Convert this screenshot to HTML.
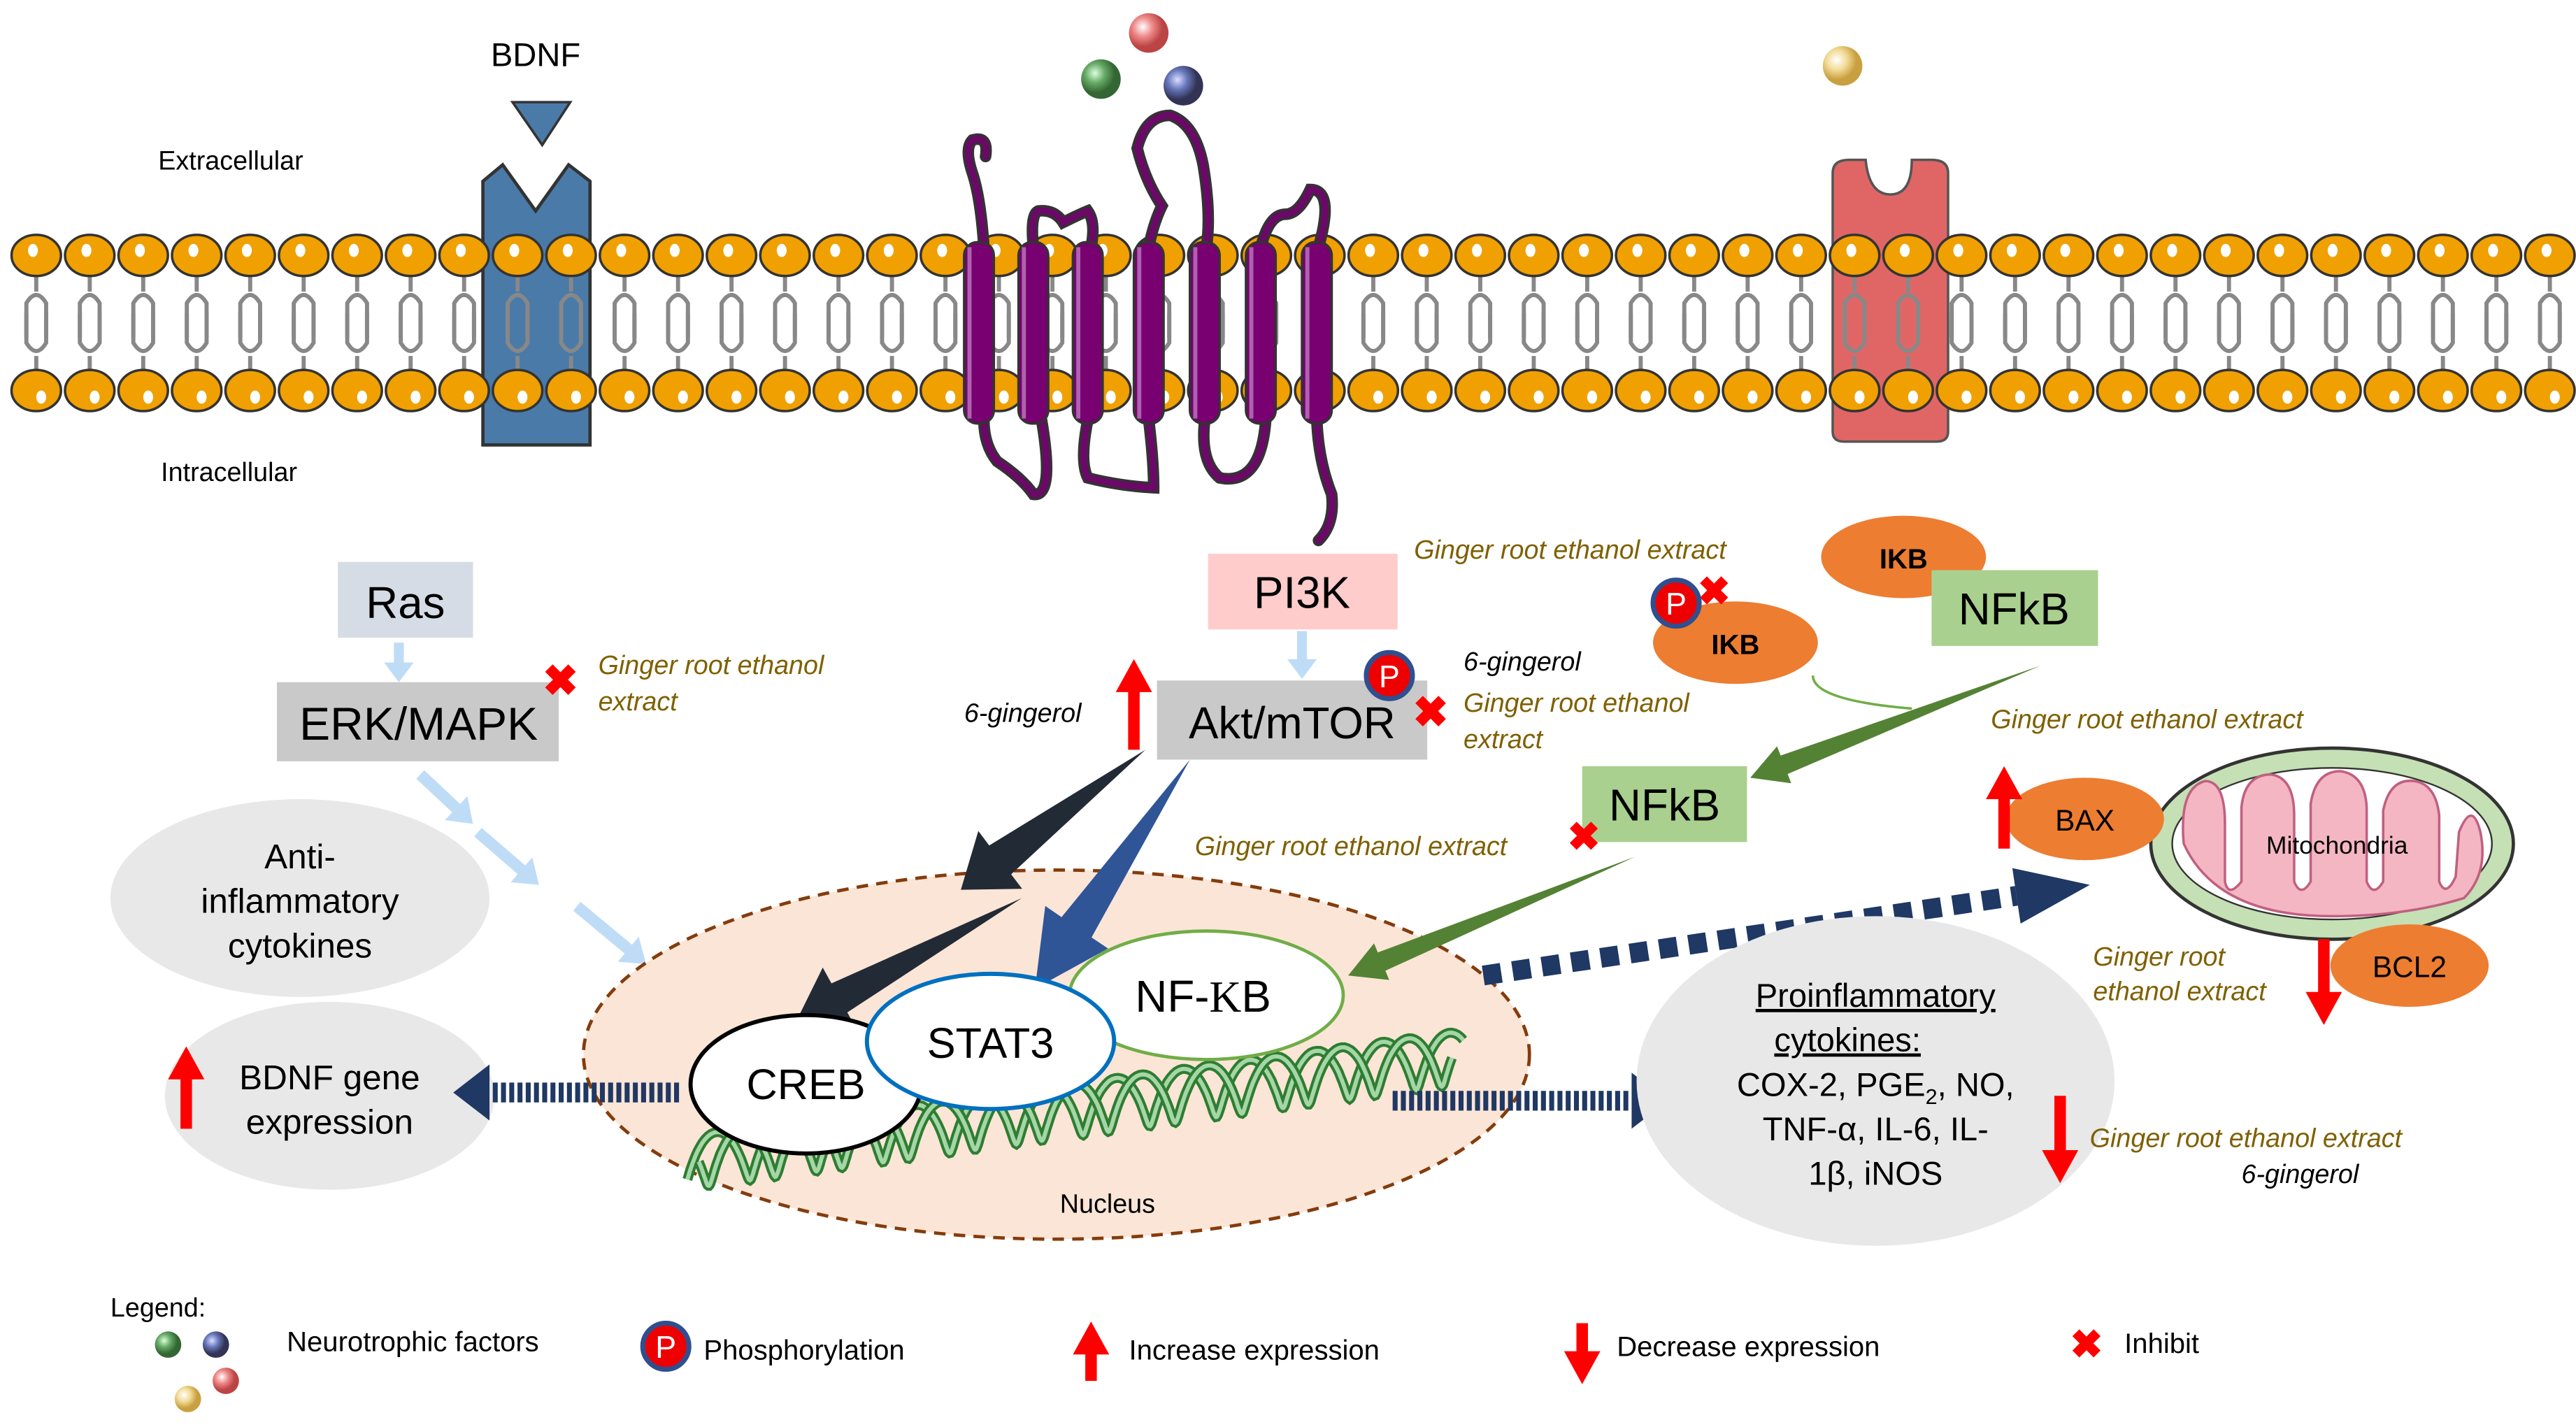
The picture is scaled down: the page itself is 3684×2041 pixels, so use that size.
<!DOCTYPE html>
<html><head><meta charset="utf-8">
<style>
html,body{margin:0;padding:0;background:#fff;}
svg{display:block;}
text{font-family:"Liberation Sans Narrow","Liberation Sans",sans-serif;}
.it{font-style:italic;fill:#7f6000;font-size:16px;}
</style></head>
<body>
<svg id="s" width="3684" height="2041" viewBox="0 0 1563 866" preserveAspectRatio="none" xmlns="http://www.w3.org/2000/svg">
<defs>
<radialGradient id="gr" cx="35%" cy="35%"><stop offset="0" stop-color="#fff"/><stop offset="0.5" stop-color="#e88"/><stop offset="1" stop-color="#b44"/></radialGradient>
<radialGradient id="gg" cx="35%" cy="35%"><stop offset="0" stop-color="#dfd"/><stop offset="0.5" stop-color="#6a6"/><stop offset="1" stop-color="#363"/></radialGradient>
<radialGradient id="gb" cx="35%" cy="35%"><stop offset="0" stop-color="#ddf"/><stop offset="0.5" stop-color="#67b"/><stop offset="1" stop-color="#335"/></radialGradient>
<radialGradient id="gy" cx="35%" cy="35%"><stop offset="0" stop-color="#fff"/><stop offset="0.5" stop-color="#f3dc9a"/><stop offset="1" stop-color="#c9a040"/></radialGradient>
</defs>
<!-- BDNF receptor (behind lipids) -->
<path d="M293,110 L305,100 L325,128 L345,100 L358,110 L358,270 L293,270 Z" fill="#4a7aa8" stroke="#333" stroke-width="2"/>
<!-- red channel -->
<path d="M1112,105 Q1112,97 1122,97 L1132,97 Q1134,118 1147,118 Q1160,118 1160,97 L1172,97 Q1182,97 1182,105 L1182,262 Q1182,268 1175,268 L1119,268 Q1112,268 1112,262 Z" fill="#e06666" stroke="#555" stroke-width="1.5"/>
<g id="lip"></g>

<text x="325" y="40" font-size="20" text-anchor="middle">BDNF</text>
<polygon points="311,62 346,62 329,88" fill="#4a7aa8" stroke="#333" stroke-width="1.5"/>

<!-- spheres -->
<circle cx="697" cy="20" r="12" fill="url(#gr)"/>
<circle cx="668" cy="48" r="12" fill="url(#gg)"/>
<circle cx="718" cy="52" r="12" fill="url(#gb)"/>
<circle cx="1118" cy="40" r="12" fill="url(#gy)"/>

<!-- GPCR loops -->
<g fill="none" stroke="#333" stroke-width="7" stroke-linecap="round">
<path id="lp" d="M597,150 Q595,120 590,105 Q585,90 590,85 Q600,82 598,95 M627,150 Q625,130 630,128 Q640,127 645,135 Q655,130 660,128 Q665,135 662,150 M697,150 Q700,135 705,125 Q695,110 690,90 Q695,70 710,70 Q725,75 730,100 Q735,130 732,150 M765,150 Q770,130 780,130 Q788,130 795,115 Q810,115 800,150 M597,255 Q597,270 605,280 Q620,290 627,300 Q640,302 632,255 M660,255 Q655,280 660,290 Q680,295 700,296 Q700,280 697,255 M731,255 Q728,280 740,290 Q765,295 768,255 M799,255 Q800,280 808,300 Q810,318 800,328"/>
</g>
<g fill="none" stroke="#6b0868" stroke-width="4" stroke-linecap="round">
<use href="#lp"/>
</g>
<g id="cyl"></g>

<text x="140" y="103" font-size="16" text-anchor="middle">Extracellular</text>
<text x="139" y="292" font-size="16" text-anchor="middle">Intracellular</text>

<rect x="205" y="341" width="82" height="46" fill="#d6dce5"/>
<text x="246" y="375" font-size="27" text-anchor="middle">Ras</text>
<rect x="168" y="414" width="171" height="48" fill="#c9c9c9"/>
<text x="254" y="449" font-size="28" text-anchor="middle">ERK/MAPK</text>
<g id="arrows"></g>
<text x="340" y="422" font-size="26" fill="#f00" text-anchor="middle" font-weight="bold">✖</text>
<text class="it" x="363" y="409">Ginger root ethanol</text>
<text class="it" x="363" y="431">extract</text>

<ellipse cx="182" cy="545" rx="115" ry="60" fill="#e8e8e8"/>
<text font-size="21" text-anchor="middle"><tspan x="182" y="527">Anti-</tspan><tspan x="182" y="554">inflammatory</tspan><tspan x="182" y="581">cytokines</tspan></text>
<ellipse cx="200" cy="665" rx="100" ry="57" fill="#e8e8e8"/>
<text font-size="21" text-anchor="middle"><tspan x="200" y="661">BDNF gene</tspan><tspan x="200" y="688">expression</tspan></text>

<ellipse cx="641" cy="640" rx="287" ry="112" fill="#fbe5d6" stroke="#843c0c" stroke-width="2" stroke-dasharray="7,5"/>
<text x="672" y="736" font-size="16" text-anchor="middle">Nucleus</text>
<g id="dna"></g>
<g id="arrows2"></g>
<ellipse cx="732" cy="604" rx="83" ry="39" fill="#fff" stroke="#70ad47" stroke-width="2"/>
<text x="730" y="614" font-size="27" text-anchor="middle">NF-<tspan font-family="Liberation Serif">K</tspan>B</text>
<ellipse cx="489" cy="658" rx="70" ry="42" fill="#fff" stroke="#000" stroke-width="2.5"/>
<text x="489" y="667" font-size="26" text-anchor="middle">CREB</text>
<ellipse cx="601" cy="632" rx="75" ry="41" fill="#fff" stroke="#0070c0" stroke-width="2.5"/>
<text x="601" y="642" font-size="26" text-anchor="middle">STAT3</text>

<rect x="733" y="336" width="115" height="46" fill="#ffcccc"/>
<text x="790" y="369" font-size="27" text-anchor="middle">PI3K</text>
<rect x="702" y="413" width="164" height="48" fill="#c9c9c9"/>
<text x="784" y="448" font-size="27" text-anchor="middle">Akt/mTOR</text>
<text class="it" x="585" y="438" style="fill:#000">6-gingerol</text>
<text class="it" x="888" y="407" style="fill:#000">6-gingerol</text>
<text x="868" y="441" font-size="26" fill="#f00" text-anchor="middle" font-weight="bold">✖</text>
<text class="it" x="888" y="432">Ginger root ethanol</text>
<text class="it" x="888" y="454">extract</text>
<text class="it" x="858" y="339">Ginger root ethanol extract</text>

<ellipse cx="1155" cy="338" rx="50" ry="25" fill="#ed7d31"/>
<text x="1155" y="345" font-size="17" text-anchor="middle" font-family="Liberation Serif" font-weight="bold">IKB</text>
<ellipse cx="1053" cy="390" rx="50" ry="25" fill="#ed7d31"/>
<text x="1053" y="397" font-size="17" text-anchor="middle" font-family="Liberation Serif" font-weight="bold">IKB</text>
<text x="1040" y="367" font-size="24" fill="#f00" text-anchor="middle" font-weight="bold">✖</text>
<rect x="1172" y="346" width="101" height="46" fill="#a9d08e"/>
<text x="1222" y="379" font-size="27" text-anchor="middle">NFkB</text>
<path d="M1100,410 Q1100,425 1160,430" fill="none" stroke="#70ad47" stroke-width="1.5"/>
<rect x="960" y="465" width="100" height="46" fill="#a9d08e"/>
<text x="1010" y="498" font-size="27" text-anchor="middle">NFkB</text>
<text x="961" y="516" font-size="24" fill="#f00" text-anchor="middle" font-weight="bold">✖</text>
<text class="it" x="725" y="519">Ginger root ethanol extract</text>
<text class="it" x="1208" y="442">Ginger root ethanol extract</text>

<!-- mitochondria -->
<ellipse cx="1415" cy="512" rx="110" ry="58" fill="#c5e0b4" stroke="#333" stroke-width="2"/>
<ellipse cx="1415" cy="512" rx="97" ry="46" fill="#fff" stroke="#333" stroke-width="1"/>
<path d="M1325,512 Q1322,478 1338,474 Q1350,474 1350,500 L1350,535 Q1352,545 1360,535 L1360,490 Q1362,470 1378,470 Q1392,472 1392,495 L1392,535 Q1396,545 1402,535 L1402,488 Q1405,468 1420,468 Q1435,470 1436,490 L1436,535 Q1440,545 1446,535 L1446,492 Q1450,472 1465,474 Q1478,476 1480,495 L1480,535 Q1484,545 1490,532 L1492,505 Q1500,485 1505,505 Q1510,530 1495,545 Q1460,556 1415,556 Q1345,556 1325,512 Z" fill="#f4b6c2" stroke="#c06080" stroke-width="1.5"/>
<text x="1418" y="518" font-size="15" text-anchor="middle">Mitochondria</text>
<ellipse cx="1265" cy="497" rx="48" ry="25" fill="#ed7d31"/>
<text x="1265" y="504" font-size="18" text-anchor="middle">BAX</text>
<ellipse cx="1462" cy="586" rx="48" ry="25" fill="#ed7d31"/>
<text x="1462" y="593" font-size="18" text-anchor="middle">BCL2</text>
<text class="it" x="1270" y="586">Ginger root</text>
<text class="it" x="1270" y="607">ethanol extract</text>

<ellipse cx="1138" cy="656" rx="145" ry="100" fill="#e8e8e8"/>
<text font-size="20" text-anchor="middle"><tspan x="1138" y="611" text-decoration="underline">Proinflammatory</tspan><tspan x="1121" y="638" text-decoration="underline">cytokines:</tspan><tspan x="1138" y="665">COX-2, PGE<tspan font-size="13" dy="5">2</tspan><tspan dy="-5">, NO,</tspan></tspan><tspan x="1138" y="692">TNF-α, IL-6, IL-</tspan><tspan x="1138" y="719">1β, iNOS</tspan></text>
<text class="it" x="1268" y="696">Ginger root ethanol extract</text>
<text class="it" x="1360" y="718" style="fill:#000">6-gingerol</text>

<text x="67" y="799" font-size="16">Legend:</text>
<circle cx="102" cy="816" r="8" fill="url(#gg)"/>
<circle cx="131" cy="816" r="8" fill="url(#gb)"/>
<circle cx="137" cy="838" r="8" fill="url(#gr)"/>
<circle cx="114" cy="849" r="8" fill="url(#gy)"/>
<text x="174" y="820" font-size="17">Neurotrophic factors</text>
<text x="427" y="825" font-size="17">Phosphorylation</text>
<text x="685" y="825" font-size="17">Increase expression</text>
<text x="981" y="823" font-size="17">Decrease expression</text>
<text x="1266" y="824" font-size="24" fill="#f00" text-anchor="middle" font-weight="bold">✖</text>
<text x="1289" y="821" font-size="17">Inhibit</text>
<g id="red"></g>
<g id="pp"></g>
</svg>
<script>
var NS="http://www.w3.org/2000/svg";
function el(p,t,a){var e=document.createElementNS(NS,t);for(var k in a)e.setAttribute(k,a[k]);document.getElementById(p).appendChild(e);return e;}
for(var i=0;i<48;i++){var x=22+i*32.45;
 el("lip","path",{d:"M"+x+",168 L"+x+",177 M"+(x-6)+",205 L"+(x-6)+",184 Q"+x+",174 "+(x+6)+",184 L"+(x+6)+",205",fill:"none",stroke:"#888","stroke-width":2.5});
 el("lip","path",{d:"M"+x+",225 L"+x+",216 M"+(x-6)+",190 L"+(x-6)+",208 Q"+x+",218 "+(x+6)+",208 L"+(x+6)+",190",fill:"none",stroke:"#888","stroke-width":2.5});
 el("lip","ellipse",{cx:x,cy:155,rx:15,ry:12.5,fill:"#f0a000",stroke:"#333","stroke-width":1.5});
 el("lip","ellipse",{cx:x-2,cy:152,rx:3,ry:4,fill:"#fff"});
 el("lip","ellipse",{cx:x,cy:237,rx:15,ry:12.5,fill:"#f0a000",stroke:"#333","stroke-width":1.5});
 el("lip","ellipse",{cx:x+3,cy:241,rx:3,ry:4,fill:"#fff"});
}
[594,627,660,697,731,765,799].forEach(function(x){
 el("cyl","rect",{x:x-9,y:147,width:18,height:110,rx:8,fill:"#780070",stroke:"#333","stroke-width":1.5});
 el("cyl","rect",{x:x-7,y:150,width:2.5,height:104,fill:"#b060b0"});
});
function barrow(g,x1,y1,x2,y2,sw,hw,hl,col){
 var dx=x2-x1,dy=y2-y1,L=Math.hypot(dx,dy),ux=dx/L,uy=dy/L,nx=-uy,ny=ux;
 var bx=x2-ux*hl,by=y2-uy*hl;
 var p=[[x1+nx*sw/2,y1+ny*sw/2],[bx+nx*sw/2,by+ny*sw/2],[bx+nx*hw/2,by+ny*hw/2],[x2,y2],[bx-nx*hw/2,by-ny*hw/2],[bx-nx*sw/2,by-ny*sw/2],[x1-nx*sw/2,y1-ny*sw/2]];
 el(g,"polygon",{points:p.map(function(q){return q[0].toFixed(1)+","+q[1].toFixed(1)}).join(" "),fill:col});
}
function tarrow(g,x1,y1,x2,y2,w,hw,hl,col){
 var dx=x2-x1,dy=y2-y1,L=Math.hypot(dx,dy),ux=dx/L,uy=dy/L,nx=-uy,ny=ux;
 var bx=x2-ux*hl,by=y2-uy*hl;
 var p=[[x1,y1],[bx+nx*w/2,by+ny*w/2],[bx+nx*hw/2,by+ny*hw/2],[x2,y2],[bx-nx*hw/2,by-ny*hw/2],[bx-nx*w/2,by-ny*w/2]];
 el(g,"polygon",{points:p.map(function(q){return q[0].toFixed(1)+","+q[1].toFixed(1)}).join(" "),fill:col});
}
var lb="#bfdcf7";
barrow("arrows",242,390,242,414,6,18,12,lb);
barrow("arrows",790,383,790,412,6,18,12,lb);
barrow("arrows",255,470,287,500,7,20,14,lb);
barrow("arrows",290,505,327,537,7,20,14,lb);
barrow("arrows",350,550,392,585,7,20,14,lb);
tarrow("arrows2",695,455,583,540,22,44,30,"#222a35");
tarrow("arrows2",620,545,483,620,20,42,30,"#222a35");
tarrow("arrows2",722,461,628,600,22,46,45,"#2f5597");
tarrow("arrows2",1238,404,1062,472,12,24,22,"#548235");
tarrow("arrows2",992,520,818,592,12,24,22,"#548235");
function darrow(x1,y1,x2,y2,w,dash,hw,hl){
 var dx=x2-x1,dy=y2-y1,L=Math.hypot(dx,dy),ux=dx/L,uy=dy/L;
 var a2=[x2-ux*hl,y2-uy*hl];
 el("arrows2","line",{x1:x1,y1:y1,x2:a2[0],y2:a2[1],stroke:"#1f3864","stroke-width":w,"stroke-dasharray":dash});
 barrow("arrows2",a2[0],a2[1],x2,y2,0,hw,hl,"#1f3864");
}
darrow(412,663,275,663,12,"3,2",34,22);
darrow(845,668,1012,668,12,"3,2",34,22);
darrow(900,592,1268,537,12,"11,7",34,45);
(function(){var x1=420,y1=705,x2=885,y2=642,n=11.5,A=16,d1="",d2="";
 for(var t=0;t<=400;t++){var s=t/400,x=x1+(x2-x1)*s,y=y1+(y2-y1)*s,ph=s*n*2*Math.PI;
  d1+=(t?"L":"M")+(x+4*Math.cos(ph)).toFixed(1)+","+(y+A*Math.sin(ph)).toFixed(1);
  d2+=(t?"L":"M")+(x+4*Math.cos(ph+2.4)).toFixed(1)+","+(y+A*Math.sin(ph+2.4)).toFixed(1);}
 [d2,d1].forEach(function(d){
 el("dna","path",{d:d,fill:"none",stroke:"#2e7d32","stroke-width":6});
 el("dna","path",{d:d,fill:"none",stroke:"#a5d6a7","stroke-width":2.5});});
})();
function rup(x,yt,yb){el("red","polygon",{points:(x-11)+","+(yt+20)+" "+(x+11)+","+(yt+20)+" "+x+","+yt,fill:"#f00"});el("red","rect",{x:x-3.5,y:yt+19,width:7,height:yb-yt-19,fill:"#f00"});}
function rdn(x,yt,yb){el("red","polygon",{points:(x-11)+","+(yb-20)+" "+(x+11)+","+(yb-20)+" "+x+","+yb,fill:"#f00"});el("red","rect",{x:x-3.5,y:yt,width:7,height:yb-yt-19,fill:"#f00"});}
rup(113,635,685);rup(688,400,455);rup(1216,465,515);rdn(1410,570,622);rdn(1250,665,718);
rup(662,802,838);rdn(960,803,840);
[[843,410,14],[1017,366,14],[404,817,14]].forEach(function(p){
 el("pp","circle",{cx:p[0],cy:p[1],r:p[2],fill:"#e00",stroke:"#2f4f8f","stroke-width":3});
 var t=el("pp","text",{x:p[0],y:p[1]+7,"font-size":19,fill:"#fff","text-anchor":"middle"});t.textContent="P";});
</script>
</body></html>
